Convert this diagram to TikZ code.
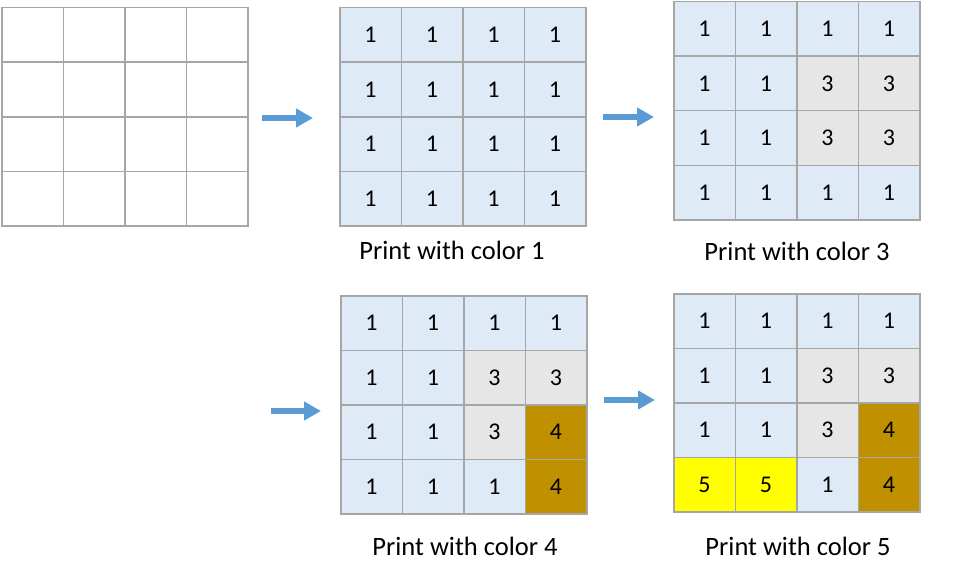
\documentclass[tikz,border=0pt]{standalone}
\usepackage{fontspec}
\setmainfont{Carlito}
\usetikzlibrary{arrows.meta}
\definecolor{cellblue}{RGB}{222,234,246}
\definecolor{cellgray}{RGB}{231,230,230}
\definecolor{cellbrown}{RGB}{191,144,0}
\definecolor{cellyellow}{RGB}{255,255,0}
\definecolor{edgegray}{RGB}{166,166,166}
\definecolor{arrowblue}{RGB}{91,155,213}

% one 4x4 grid: name, left, top, values (0 = blank)
\newcommand\cellgrid[4]{%
  \foreach \v [count=\i from 0] in {#4} {
    \pgfmathtruncatemacro\col{mod(\i,4)}
    \pgfmathtruncatemacro\row{div(\i,4)}
    \node[c\v,anchor=north west] (#1-\row-\col) at ({#2+61.5*\col},{#3+54.5*\row}) {\ifnum\v=0 \else\v\fi};
  }}

\begin{document}
\begin{tikzpicture}[x=1pt,y=-1pt,
    cell/.style={draw=edgegray,line width=1.5pt,minimum width=61.5pt,minimum height=54.5pt,inner sep=0pt,font=\fontsize{24}{24}\selectfont},
    c0/.style={cell,fill=white},
    c1/.style={cell,fill=cellblue},
    c3/.style={cell,fill=cellgray},
    c4/.style={cell,fill=cellbrown},
    c5/.style={cell,fill=cellyellow},
    caption/.style={font=\fontsize{26.5}{26.5}\selectfont},
    flow arrow/.style={-{Triangle[length=17pt,width=18pt]},line width=6pt,arrowblue}]
  \useasboundingbox (0,0) rectangle (962,578);

  \cellgrid{blank}{1}{7}{0,0,0,0,0,0,0,0,0,0,0,0,0,0,0,0}
  \cellgrid{one}{339}{7}{1,1,1,1,1,1,1,1,1,1,1,1,1,1,1,1}
  \cellgrid{three}{673}{1}{1,1,1,1,1,1,3,3,1,1,3,3,1,1,1,1}
  \cellgrid{four}{340}{295}{1,1,1,1,1,1,3,3,1,1,3,4,1,1,1,4}
  \cellgrid{five}{673}{293}{1,1,1,1,1,1,3,3,1,1,3,4,5,5,1,4}

  \node[caption] (cap1) at (452,250) {Print with color 1};
  \node[caption] (cap3) at (797,251) {Print with color 3};
  \node[caption] (cap4) at (465,546) {Print with color 4};
  \node[caption] (cap5) at (798,546) {Print with color 5};

  % step arrows
  \coordinate (a1s) at (262,118); \coordinate (a1e) at (313,118);
  \coordinate (a2s) at (603,117); \coordinate (a2e) at (654,117);
  \coordinate (a3s) at (271,411); \coordinate (a3e) at (321,411);
  \coordinate (a4s) at (604,400); \coordinate (a4e) at (655,400);
  \draw[flow arrow] (a1s) -- (a1e);
  \draw[flow arrow] (a2s) -- (a2e);
  \draw[flow arrow] (a3s) -- (a3e);
  \draw[flow arrow] (a4s) -- (a4e);
\end{tikzpicture}
\end{document}
